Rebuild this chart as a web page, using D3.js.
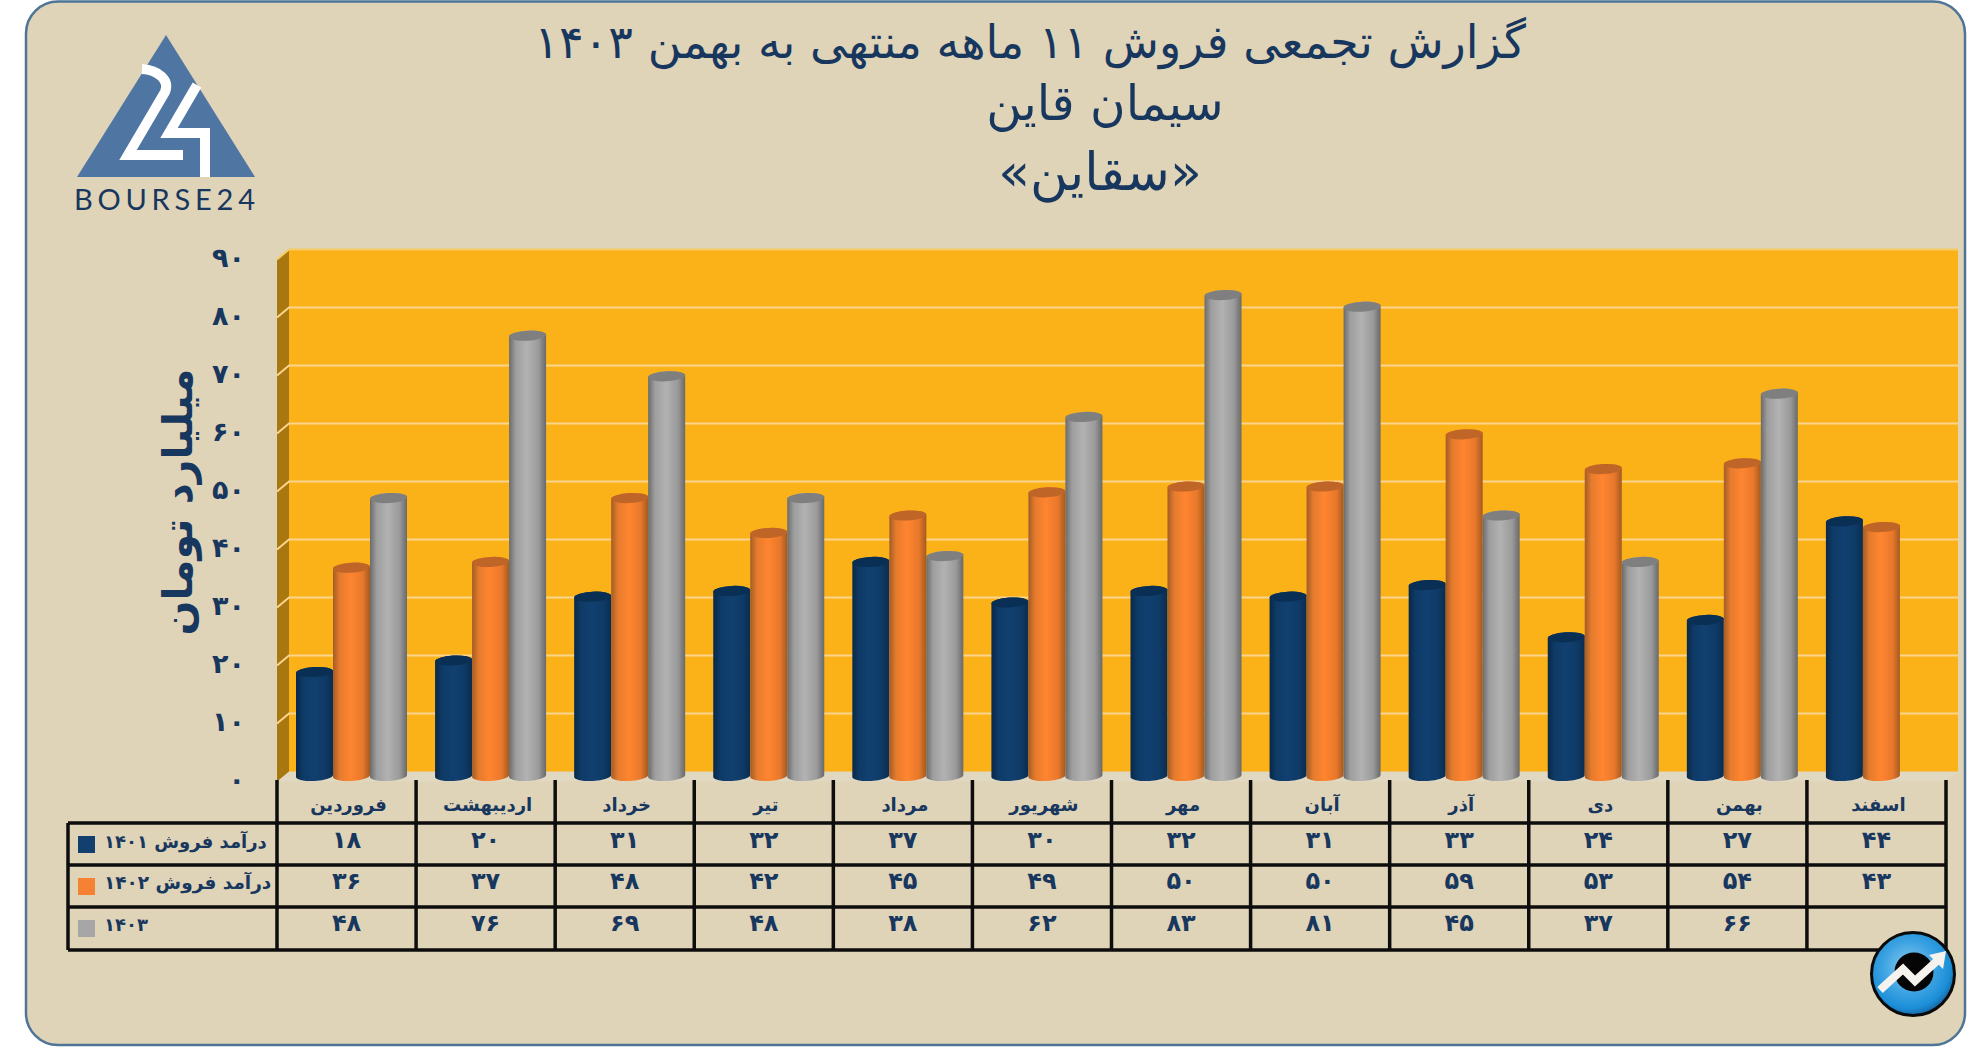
<!DOCTYPE html>
<html>
<head>
<meta charset="utf-8">
<script src="https://d3js.org/d3.v7.min.js"></script>
<style>
	body { margin: 0; background: #fff; }
	text { font-family: "DejaVu Sans", sans-serif; fill: #17375E; }
</style>
</head>
<body>
<div id="chartContainer"></div>
<script>
//values
var months = ["فروردین", "اردیبهشت", "خرداد", "تیر", "مرداد", "شهریور", "مهر", "آبان", "آذر", "دی", "بهمن", "اسفند"];
var seriesNames = ["درآمد فروش ۱۴۰۱", "درآمد فروش ۱۴۰۲", "۱۴۰۳"];
var sales1401 = [18, 20, 31, 32, 37, 30, 32, 31, 33, 24, 27, 44];
var sales1402 = [36, 37, 48, 42, 45, 49, 50, 50, 59, 53, 54, 43];
var sales1403 = [48, 76, 69, 48, 38, 62, 83, 81, 45, 37, 66, null];
var yTicks = [0, 10, 20, 30, 40, 50, 60, 70, 80, 90];
var titleLines = ["گزارش تجمعی فروش ۱۱ ماهه منتهی به بهمن ۱۴۰۳", "سیمان قاین", "«سقاین»"];
var yTitle = "میلیارد تومان";

var allSales = [sales1401, sales1402, sales1403];

//colors for each series: dark edge, light middle, top of the cylinder, legend box
var seriesColors = [
	{stops: ["#092847", "#0E3A66", "#114070", "#0E3A66", "#0A2C4F"], top: "#0A2F55", box: "#123F6D"},
	{stops: ["#A35C26", "#E57B2D", "#FF8530", "#E8782B", "#A45A20"], top: "#BF6528", box: "#F58232"},
	{stops: ["#6B6B6B", "#9E9E9E", "#B2B2B2", "#9A9A9A", "#696969"], top: "#7F7F7F", box: "#A6A6A6"}
];
var stopOffsets = ["0%", "18%", "48%", "80%", "100%"];

var toPersian = function (v) {
	return String(v).replace(/\d/g, function (d) { return "۰۱۲۳۴۵۶۷۸۹"[d]; });
};

var svg = d3.select("#chartContainer").append("svg")
	.attr("width", 1986)
	.attr("height", 1047)
	.style("display", "block");

var defs = svg.append("defs");

seriesColors.forEach(function (c, i) {
	var g = defs.append("linearGradient").attr("id", "cyl" + i);
	c.stops.forEach(function (col, j) {
		g.append("stop").attr("offset", stopOffsets[j]).attr("stop-color", col);
	});
});

var badgeGrad = defs.append("radialGradient").attr("id", "badge")
	.attr("cx", "45%").attr("cy", "42%").attr("r", "58%");
badgeGrad.append("stop").attr("offset", "0%").attr("stop-color", "#8CCBEE");
badgeGrad.append("stop").attr("offset", "55%").attr("stop-color", "#3BA2E2");
badgeGrad.append("stop").attr("offset", "85%").attr("stop-color", "#1C8FD8");
badgeGrad.append("stop").attr("offset", "100%").attr("stop-color", "#1669A8");

//the card
svg.append("rect")
	.attr("x", 26).attr("y", 1.5)
	.attr("width", 1939).attr("height", 1043.5)
	.attr("rx", 32)
	.attr("fill", "#DFD3B8")
	.attr("stroke", "#4F7596")
	.attr("stroke-width", 2.5);

//scales
var left = 277, right = 1946, depthX = 12, depthY = 10;
var x0 = d3.scaleBand().domain(months).range([left, right]);
var x1 = d3.scaleBand().domain(seriesNames).range([19, 130]);
var y = d3.scaleLinear().domain([0, 90]).range([771.5, 249.5]);
var yFront = d3.scaleLinear().domain([0, 90]).range([780, 258]);

var wallX = left + depthX, wallRight = 1958;

//back wall, side wall and floor
svg.append("polygon")
	.attr("points", [[left, y(0) + depthY], [wallX, y(0)], [wallRight, y(0)], [right, y(0) + depthY]].join(" "))
	.attr("fill", "#E1D8C2");
svg.append("rect")
	.attr("x", wallX).attr("y", y(90))
	.attr("width", wallRight - wallX).attr("height", y(0) - y(90))
	.attr("fill", "#FBB118");
svg.append("polygon")
	.attr("points", [[left, y(90) + depthY], [wallX, y(90)], [wallX, y(0)], [left, y(0) + depthY]].join(" "))
	.attr("fill", "#A9770F");

//gridlines
yTicks.filter(function (t) { return t > 0; }).forEach(function (t) {
	svg.append("polyline")
		.attr("points", [[left, y(t) + depthY], [wallX, y(t)], [wallRight, y(t)]].join(" "))
		.attr("fill", "none")
		.attr("stroke", t == 90 ? "#F7CB63" : "#FBD58E")
		.attr("stroke-width", 2);
});

//the cylinders
var rx = x1.bandwidth() / 2, ry = 5, tilt = 1;
var angle = Math.atan2(-2 * tilt, x1.bandwidth()) * 180 / Math.PI;

var bars = svg.append("g");
months.forEach(function (month, m) {
	seriesNames.forEach(function (name, s) {
		var v = allSales[s][m];
		if (v === null) { return; }
		var xa = x0(month) + x1(name), xb = xa + x1.bandwidth();
		var top = y(v) + ry, bottom = y(0) + 4.5;
		var arc = "A" + rx + "," + ry + " " + angle + " 0 0 ";
		bars.append("path")
			.attr("d", "M" + xa + "," + (top + tilt) + "L" + xa + "," + (bottom + tilt)
				+ arc + xb + "," + (bottom - tilt) + "L" + xb + "," + (top - tilt)
				+ arc + xa + "," + (top + tilt) + "Z")
			.attr("fill", "url(#cyl" + s + ")");
		bars.append("ellipse")
			.attr("cx", (xa + xb) / 2).attr("cy", top)
			.attr("rx", rx).attr("ry", ry)
			.attr("transform", "rotate(" + angle + " " + (xa + xb) / 2 + " " + top + ")")
			.attr("fill", seriesColors[s].top);
	});
});

//y axis
var yAxis = svg.append("g")
	.attr("transform", "translate(250,0)")
	.call(d3.axisLeft(yFront).tickValues(yTicks).tickSize(0).tickPadding(5).tickFormat(toPersian));
yAxis.select(".domain").remove();
yAxis.selectAll("text")
	.style("font-family", '"DejaVu Sans", sans-serif')
	.style("font-size", "27px")
	.style("font-weight", "bold")
	.style("fill", "#17375E");

svg.append("text")
	.attr("transform", "translate(192,502) rotate(-90)")
	.attr("text-anchor", "middle")
	.style("font-size", "41px")
	.style("font-weight", "bold")
	.attr("direction", "rtl")
	.text(yTitle);

//titles, the first line sits further left than the other two
var titleX = [1030, 1105, 1100], titleY = [58, 120, 190], titleSize = [46, 48.5, 52];
titleLines.forEach(function (line, i) {
	svg.append("text")
		.attr("x", titleX[i])
		.attr("y", titleY[i])
		.attr("text-anchor", "middle")
		.attr("direction", "rtl")
		.style("font-size", titleSize[i] + "px")
		.text(line);
});

//table under the chart
var rowLines = [823, 865, 907, 950], tableLeft = 68;
var table = svg.append("g").attr("stroke", "#0D0D0D").attr("stroke-width", 3.5);
rowLines.forEach(function (ry0) {
	table.append("line").attr("x1", tableLeft).attr("x2", right).attr("y1", ry0).attr("y2", ry0);
});
table.append("line").attr("x1", tableLeft).attr("x2", tableLeft).attr("y1", 823).attr("y2", 950);
months.concat(["end"]).forEach(function (month, i) {
	var xv = i < months.length ? x0(month) : right;
	table.append("line").attr("x1", xv).attr("x2", xv).attr("y1", 780).attr("y2", 950);
});

months.forEach(function (month) {
	svg.append("text")
		.attr("x", x0(month) + x0.bandwidth() / 2 + 2)
		.attr("y", 811)
		.attr("text-anchor", "middle")
		.attr("direction", "rtl")
		.style("font-size", "18px")
		.style("font-weight", "bold")
		.text(month);
});

var rowText = [848, 889, 931], boxTop = [836, 878, 920], labelSize = [18, 18.5, 18];
seriesNames.forEach(function (name, s) {
	svg.append("rect")
		.attr("x", 78).attr("y", boxTop[s])
		.attr("width", 17).attr("height", 17)
		.attr("fill", seriesColors[s].box);
	svg.append("text")
		.attr("x", 104).attr("y", rowText[s])
		.attr("text-anchor", "end")
		.attr("direction", "rtl")
		.style("font-size", labelSize[s] + "px")
		.style("font-weight", "bold")
		.text(name);
	months.forEach(function (month, m) {
		var v = allSales[s][m];
		if (v === null) { return; }
		svg.append("text")
			.attr("x", x0(month) + x0.bandwidth() / 2)
			.attr("y", rowText[s])
			.attr("text-anchor", "middle")
			.style("font-size", "24px")
			.style("font-weight", "bold")
			.text(toPersian(v));
	});
});

//logo top left
var logo = svg.append("g");
logo.append("polygon")
	.attr("points", "166,35 77,177 255,177")
	.attr("fill", "#4F76A3");
logo.append("path")
	.attr("d", "M142,69 C158,70 170,80 165,92 L128,155 H183")
	.attr("fill", "none").attr("stroke", "#fff").attr("stroke-width", 10);
logo.append("path")
	.attr("d", "M197,85 L169,133 H205 V177")
	.attr("fill", "none").attr("stroke", "#fff").attr("stroke-width", 10);
logo.append("text")
	.attr("x", 74).attr("y", 210)
	.attr("textLength", 181)
	.style("font-family", "Lato, sans-serif")
	.style("font-size", "29px")
	.text("BOURSE24");

//round badge bottom right
var badge = svg.append("g");
badge.append("circle")
	.attr("cx", 1913).attr("cy", 974).attr("r", 41.5)
	.attr("fill", "url(#badge)")
	.attr("stroke", "#0A0A0A").attr("stroke-width", 3);
badge.append("circle").attr("cx", 1914).attr("cy", 972).attr("r", 19.5).attr("fill", "#050505");
badge.append("polyline")
	.attr("points", "1880,990 1903,969 1915,981 1938,960")
	.attr("fill", "none").attr("stroke", "#F6F3EE").attr("stroke-width", 8);
badge.append("polygon")
	.attr("points", "1946,951 1929,955 1943,969")
	.attr("fill", "#F6F3EE");
</script>
</body>
</html>
